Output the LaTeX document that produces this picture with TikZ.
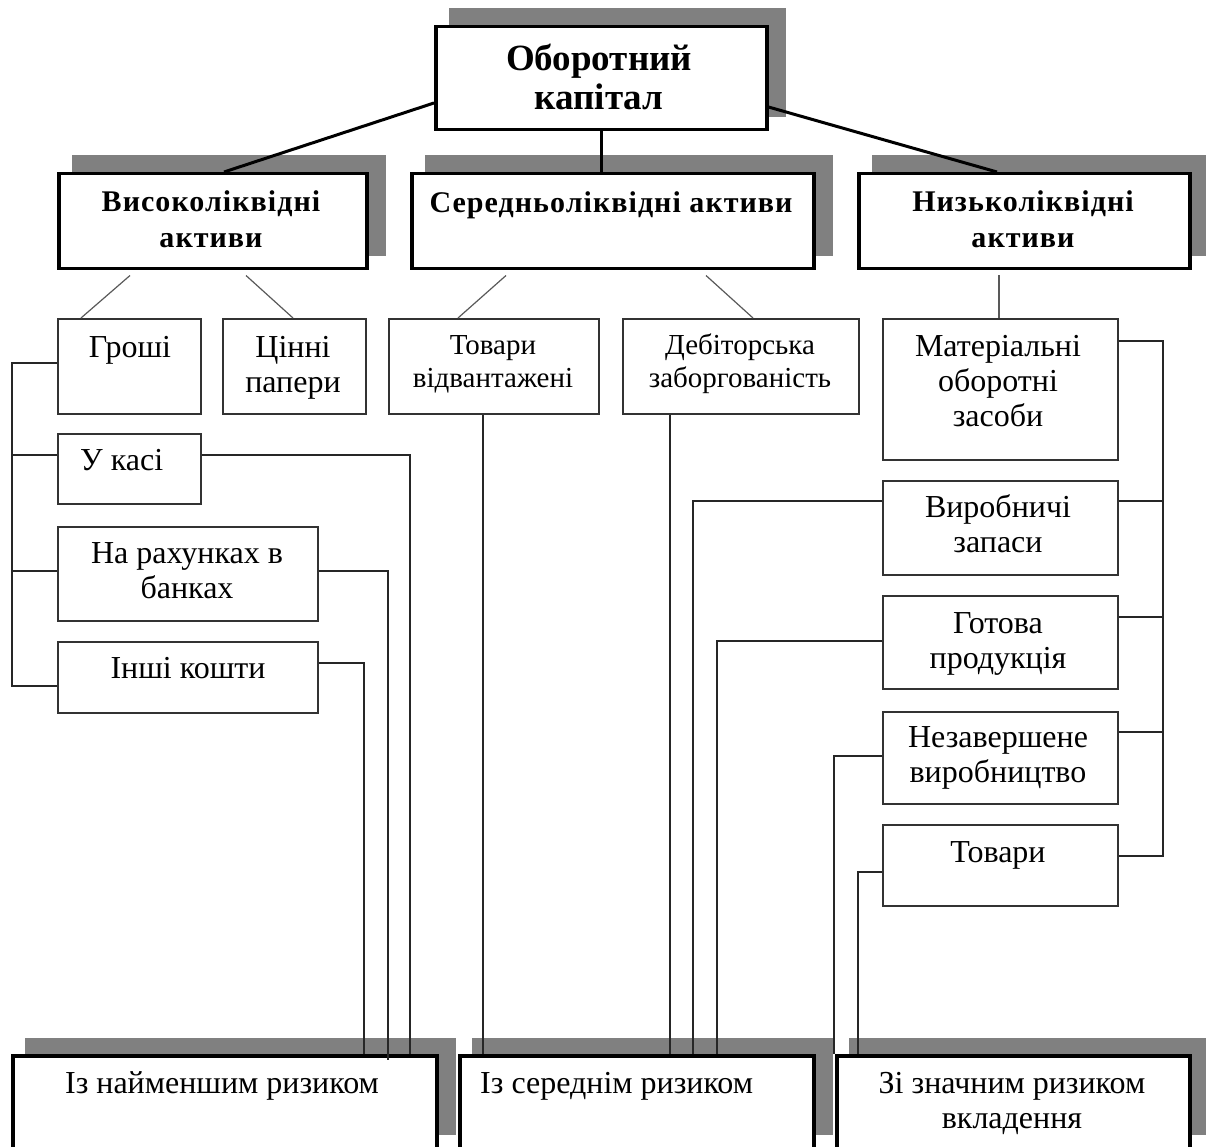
\documentclass[tikz,border=0pt]{standalone}
\usepackage{fontspec}
\setmainfont{Liberation Serif}
\usetikzlibrary{calc,backgrounds}
\definecolor{shadowc}{RGB}{128,128,128}
\begin{document}
\begin{tikzpicture}[x=1pt,y=-1pt,
  bigbox/.style={draw=black,line width=3.5pt,fill=white,inner sep=0pt,anchor=north west},
  smallbox/.style={draw=black!80,line width=1.6pt,fill=white,inner sep=0pt,anchor=north west},
  conn/.style={draw=black!85,line width=1.5pt},
  tconn/.style={draw=black,line width=3pt},
  diag/.style={draw=black!65,line width=1.2pt},
  shad/.style={fill=shadowc,draw=none},
  ttop/.style={font=\fontsize{37}{39}\selectfont\bfseries,align=center,anchor=base,inner sep=0pt},
  tlev/.style={font=\fontsize{30}{36}\selectfont\bfseries\addfontfeature{LetterSpace=3.5},align=center,anchor=base,inner sep=0pt},
  tnorm/.style={font=\fontsize{32}{35}\selectfont,align=center,anchor=base,inner sep=0pt},
  tsmall/.style={font=\fontsize{29}{33}\selectfont,align=center,anchor=base,inner sep=0pt},
  tbot/.style={font=\fontsize{32}{35}\selectfont,align=center,anchor=base,inner sep=0pt}]
\useasboundingbox (0,0) rectangle (1206,1147);
\clip (0,0) rectangle (1206,1147);

% boxes
\node[bigbox,minimum width=331pt,minimum height=103pt] (top) at (434,25) {};
\node[bigbox,minimum width=308pt,minimum height=95pt] (hi) at (57,172) {};
\node[bigbox,minimum width=402pt,minimum height=95pt] (mid) at (410,172) {};
\node[bigbox,minimum width=331pt,minimum height=95pt] (lo) at (857,172) {};

\node[smallbox,minimum width=143pt,minimum height=95pt] (money) at (57,318) {};
\node[smallbox,minimum width=143pt,minimum height=95pt] (sec) at (222,318) {};
\node[smallbox,minimum width=210pt,minimum height=95pt] (tv) at (388,318) {};
\node[smallbox,minimum width=236pt,minimum height=95pt] (deb) at (622,318) {};
\node[smallbox,minimum width=235pt,minimum height=141pt] (mat) at (882,318) {};

\node[smallbox,minimum width=143pt,minimum height=70pt] (cash) at (57,433) {};
\node[smallbox,minimum width=260pt,minimum height=94pt] (bank) at (57,526) {};
\node[smallbox,minimum width=260pt,minimum height=71pt] (other) at (57,641) {};

\node[smallbox,minimum width=235pt,minimum height=94pt] (prod) at (882,480) {};
\node[smallbox,minimum width=235pt,minimum height=93pt] (ready) at (882,595) {};
\node[smallbox,minimum width=235pt,minimum height=92pt] (wip) at (882,711) {};
\node[smallbox,minimum width=235pt,minimum height=81pt] (goods) at (882,824) {};

\node[bigbox,minimum width=424pt,minimum height=120pt] (bot1) at (11,1054) {};
\node[bigbox,minimum width=354pt,minimum height=120pt] (bot2) at (458,1054) {};
\node[bigbox,minimum width=353pt,minimum height=120pt] (bot3) at (835,1054) {};

% shadows
\begin{scope}[on background layer]
\foreach \n in {top,hi,mid,lo}{
  \fill[shad] ($(\n.north west)+(15,-17)$) rectangle ($(\n.south east)+(17,-14)$);
}
\foreach \n in {bot1,bot2,bot3}{
  \fill[shad] ($(\n.north west)+(14,-16)$) rectangle ($(\n.north east |- 0,1135)+(17,0)$);
}
\end{scope}

% top-level connectors
\draw[tconn] (top.west |- 0,103) -- (hi.north -| 224,0);
\draw[tconn] (top.south) -- (mid.north -| top.south);
\draw[tconn] (top.east |- 0,107) -- (lo.north -| 997,0);

% level 2 -> level 3
\draw[diag] ($(hi.south -| 130,0)+(0,5)$) -- (money.north -| 81,0);
\draw[diag] ($(hi.south -| 246,0)+(0,5)$) -- (sec.north -| 293,0);
\draw[diag] ($(mid.south -| 506,0)+(0,5)$) -- (tv.north -| 458,0);
\draw[diag] ($(mid.south -| 706,0)+(0,5)$) -- (deb.north -| 753,0);
\draw[diag] ($(lo.south -| 999,0)+(0,5)$) -- (mat.north -| 999,0);

% left tree
\draw[conn] (money.west |- 0,363) -- (12,363) -- (12,686) -- (other.west |- 0,686);
\draw[conn] (cash.west |- 0,455) -- (12,455);
\draw[conn] (bank.west |- 0,571) -- (12,571);

% to bottom-left
\draw[conn] (cash.east |- 0,455) -| (bot1.north -| 410,0);
\draw[conn] (bank.east |- 0,571) -| ($(bot1.north -| 388,0)+(0,6)$);
\draw[conn] (other.east |- 0,663) -| (bot1.north -| 364,0);

% to bottom-middle
\draw[conn] (tv.south -| 483,0) -- (bot2.north -| 483,0);
\draw[conn] (deb.south -| 670,0) -- (bot2.north -| 670,0);
\draw[conn] (prod.west |- 0,501) -| (bot2.north -| 693,0);
\draw[conn] (ready.west |- 0,641) -| (bot2.north -| 717,0);

% to bottom-right
\draw[conn] (wip.west |- 0,756) -| (bot3.north -| 834,0);
\draw[conn] (goods.west |- 0,872) -| (bot3.north -| 858,0);

% right bus
\draw[conn] (mat.east |- 0,341) -| (1163,856) -- (goods.east |- 0,856);
\draw[conn] (prod.east |- 0,501) -- (1163,501);
\draw[conn] (ready.east |- 0,617) -- (1163,617);
\draw[conn] (wip.east |- 0,732) -- (1163,732);

% texts (anchor=base is the baseline of the last line)
\node[ttop] (ttopl) at (599,110) {Оборотний\\капітал};
\node[tlev] (thi) at (211,248) {Високоліквідні\\активи};
\node[tlev] (tmid) at (611,213) {Середньоліквідні активи};
\node[tlev] (tlo) at (1023,248) {Низьколіквідні\\активи};

\node[tnorm] (tmoney) at (130,357) {Гроші};
\node[tnorm] (tsec) at (293,392) {Цінні\\папери};
\node[tsmall] (ttv) at (493,387) {Товари\\відвантажені};
\node[tsmall] (tdeb) at (740,387) {Дебіторська\\заборгованість};
\node[tnorm] (tmat) at (998,426) {Матеріальні\\оборотні\\засоби};

\node[tnorm,anchor=base west] (tcash) at (80,470) {У касі};
\node[tnorm] (tbank) at (187,598) {На рахунках в\\банках};
\node[tnorm] (tother) at (188,678) {Інші кошти};

\node[tnorm] (tprod) at (998,552) {Виробничі\\запаси};
\node[tnorm] (tready) at (998,668) {Готова\\продукція};
\node[tnorm] (twip) at (998,782) {Незавершене\\виробництво};
\node[tnorm] (tgoods) at (998,862) {Товари};

\node[tbot] (tb1) at (222,1093) {Із найменшим ризиком};
\node[tbot,anchor=base west] (tb2) at (480,1093) {Із середнім ризиком};
\node[tbot] (tb3) at (1012,1128) {Зі значним ризиком\\вкладення};
\end{tikzpicture}
\end{document}
